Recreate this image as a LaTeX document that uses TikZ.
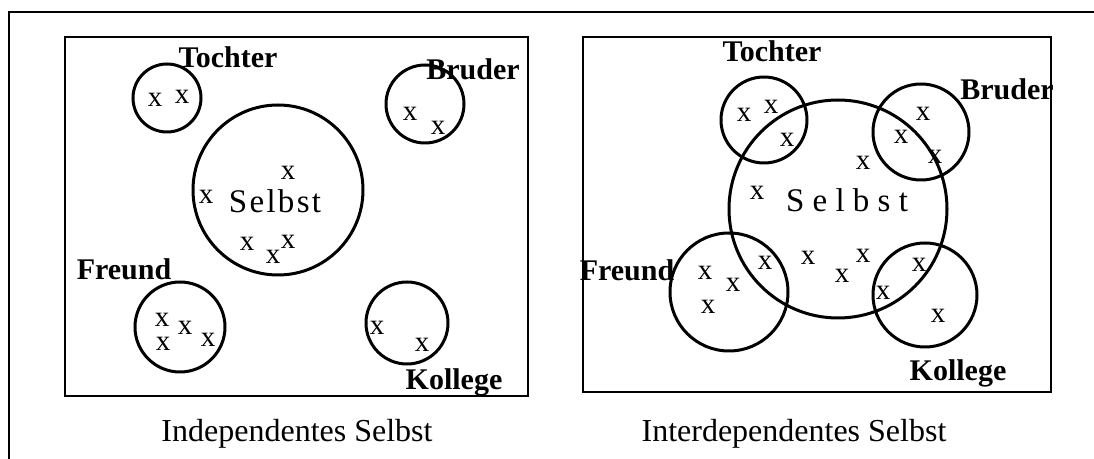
\documentclass[tikz,border=0pt]{standalone}
\usepackage{fontspec}
\setmainfont{Liberation Serif}

\tikzset{
	frame/.style={draw, line width=1pt},
	ring/.style={draw, circle, line width=1.5pt, inner sep=0pt},
	xm/.style={inner sep=0pt, font=\fontsize{14.5}{14.5}\selectfont},
	lbl/.style={anchor=base, inner sep=0pt, font=\fontsize{15}{15}\selectfont\bfseries},
	self/.style={anchor=base, inner sep=0pt, font=\fontsize{16.5}{16.5}\selectfont},
	subtitle/.style={anchor=base, inner sep=0pt, font=\fontsize{16}{16}\selectfont}
}

\begin{document}
\begin{tikzpicture}[x=0.5pt,y=-0.5pt]

	\useasboundingbox (0,0) rectangle (1094,459);
	\draw[line width=1pt] (1094,12) -- (9,12) -- (9,459);

	% Independentes Selbst
	\draw[frame] (65,37) rectangle (528,396);
	\node[ring, minimum size=85pt] (iS) at (278,190) {};
	\node[ring, minimum size=34pt] (iT) at (167,98) {};
	\node[ring, minimum size=39pt] (iB) at (425,104) {};
	\node[ring, minimum size=45pt] (iF) at (180,327) {};
	\node[ring, minimum size=41pt] (iK) at (407,323) {};

	\node[lbl] (iTl) at (228,68) {Tochter};
	\node[lbl] (iBl) at (473,80) {Bruder};
	\node[lbl] (iFl) at (124,280) {Freund};
	\node[lbl] (iKl) at (454,390) {Kollege};
	\node[self] (iSl) at (275,213) {\addfontfeature{LetterSpace=7}Selbst};

	\node[xm] (iT1) at (155,100) {x};
	\node[xm] (iT2) at (182,97) {x};
	\node[xm] (iB1) at (410,114) {x};
	\node[xm] (iB2) at (438,128) {x};
	\node[xm] (iS1) at (288,173) {x};
	\node[xm] (iS2) at (206,197) {x};
	\node[xm] (iS3) at (247,244) {x};
	\node[xm] (iS4) at (273,257) {x};
	\node[xm] (iS5) at (288,242) {x};
	\node[xm] (iF1) at (162,320) {x};
	\node[xm] (iF2) at (185,328) {x};
	\node[xm] (iF3) at (163,344) {x};
	\node[xm] (iF4) at (208,340) {x};
	\node[xm] (iK1) at (377,328) {x};
	\node[xm] (iK2) at (422,345) {x};

	\node[subtitle] (iCap) at (297,442) {Independentes Selbst};

	% Interdependentes Selbst
	\draw[frame] (583,37) rectangle (1051,392);
	\node[ring, minimum size=109pt] (dS) at (838,209) {};
	\node[ring, minimum size=43pt] (dT) at (764,120) {};
	\node[ring, minimum size=48pt] (dB) at (921,132) {};
	\node[ring, minimum size=59pt] (dF) at (729,292) {};
	\node[ring, minimum size=52pt] (dK) at (925,295) {};

	\node[lbl] (dTl) at (772,62) {Tochter};
	\node[lbl] (dBl) at (1007,100) {Bruder};
	\node[lbl] (dFl) at (627,281) {Freund};
	\node[lbl] (dKl) at (958,381) {Kollege};
	\node[self] (dSl) at (847,212) {S e l b s t};

	\node[xm] (dT1) at (744,115) {x};
	\node[xm] (dT2) at (771,107) {x};
	\node[xm] (dT3) at (787,140) {x};
	\node[xm] (dB1) at (923,114) {x};
	\node[xm] (dB2) at (901,137) {x};
	\node[xm] (dB3) at (935,157) {x};
	\node[xm] (dS1) at (863,163) {x};
	\node[xm] (dS2) at (757,193) {x};
	\node[xm] (dS3) at (808,258) {x};
	\node[xm] (dS4) at (842,276) {x};
	\node[xm] (dS5) at (863,256) {x};
	\node[xm] (dF1) at (705,273) {x};
	\node[xm] (dF2) at (733,285) {x};
	\node[xm] (dF3) at (708,307) {x};
	\node[xm] (dF4) at (765,263) {x};
	\node[xm] (dK1) at (919,265) {x};
	\node[xm] (dK2) at (883,293) {x};
	\node[xm] (dK3) at (938,316) {x};

	\node[subtitle] (dCap) at (794,442) {Interdependentes Selbst};

\end{tikzpicture}
\end{document}
